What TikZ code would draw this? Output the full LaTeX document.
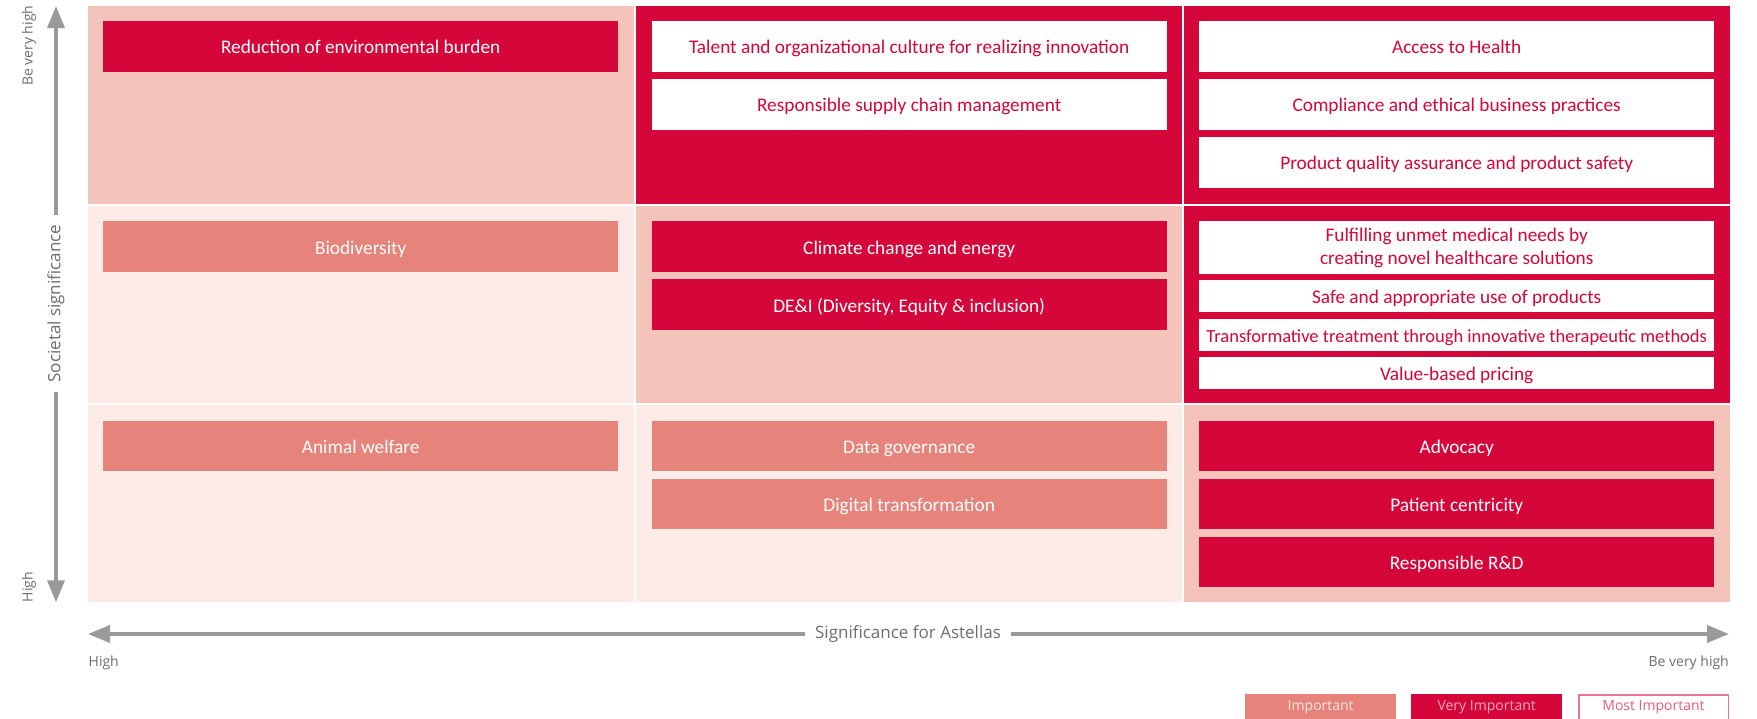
\documentclass[tikz,border=0pt]{standalone}
\usepackage{fontspec}
\setmainfont{Carlito}
\newfontfamily\axisfont{Open Sans}
\usetikzlibrary{arrows.meta}
\definecolor{vired}{HTML}{D5063A}
\definecolor{salmon}{HTML}{E6837A}
\definecolor{pinkbg}{HTML}{F4C4BA}
\definecolor{palebg}{HTML}{FCEBE7}
\definecolor{axisgray}{HTML}{9A9A9C}
\definecolor{labelgray}{HTML}{6D6E71}
\begin{document}
\begin{tikzpicture}[x=1pt,y=-1pt,
  cell/.style={anchor=north west, inner sep=0pt, minimum width=546pt},
  box/.style={anchor=north west, inner sep=0pt, minimum width=515pt, minimum height=50.6pt,
     text height=15pt, text depth=0pt,
     align=center, font=\fontsize{19.3pt}{23pt}\selectfont},
  imp/.style={box, fill=salmon, text=white},
  vimp/.style={box, fill=vired, text=white},
  mimp/.style={box, fill=white, text=vired},
  axisline/.style={draw=axisgray, line width=3.5pt, -{Triangle[length=22pt,width=17pt]}},
  axislabel/.style={text=labelgray, font=\axisfont\fontsize{17pt}{20pt}\selectfont},
  endlabel/.style={text=labelgray, inner sep=0pt, font=\axisfont\fontsize{14pt}{17pt}\selectfont},
  legend/.style={anchor=north west, inner sep=0pt, minimum width=151pt, minimum height=27pt,
     font=\axisfont\fontsize{14pt}{17pt}\selectfont}
]
\useasboundingbox (0,0) rectangle (1757,718);
\fill[white] (0,0) rectangle (1757,718);

% cells
\node[cell, fill=pinkbg, minimum width=546.5pt, minimum height=198.2pt] (c11) at (87.5,5.3) {};
\node[cell, fill=vired,  minimum height=198.2pt] (c12) at (636,5.3) {};
\node[cell, fill=vired,  minimum height=198.2pt] (c13) at (1183.5,5.3) {};
\node[cell, fill=palebg, minimum width=546.5pt, minimum height=197.5pt] (c21) at (87.5,205.5) {};
\node[cell, fill=pinkbg, minimum height=197.5pt] (c22) at (636,205.5) {};
\node[cell, fill=vired,  minimum height=197.5pt] (c23) at (1183.5,205.5) {};
\node[cell, fill=palebg, minimum width=546.5pt, minimum height=197.2pt] (c31) at (87.5,405) {};
\node[cell, fill=palebg, minimum height=197.2pt] (c32) at (636,405) {};
\node[cell, fill=pinkbg, minimum height=197.2pt] (c33) at (1183.5,405) {};

% row 1
\node[vimp] (b1) at (103,20.8) {Reduction of environmental burden};
\node[mimp] (b2) at (651.5,20.8) {Talent and organizational culture for realizing innovation};
\node[mimp] (b3) at (651.5,78.8) {Responsible supply chain management};
\node[mimp] (b4) at (1199,20.8) {Access to Health};
\node[mimp] (b5) at (1199,78.8) {Compliance and ethical business practices};
\node[mimp] (b6) at (1199,136.8) {Product quality assurance and product safety};

% row 2
\node[imp] (b7) at (103,221) {Biodiversity};
\node[vimp] (b8) at (651.5,221) {Climate change and energy};
\node[vimp] (b9) at (651.5,279) {DE\&I (Diversity, Equity \& inclusion)};
\node[mimp, minimum height=52.7pt, text height=, text depth=] (b10) at (1199,221) {\rule{0pt}{15pt}Fulfilling unmet medical needs by\\creating novel healthcare solutions};
\node[mimp, minimum height=31.7pt] (b11) at (1199,280) {Safe and appropriate use of products};
\node[mimp, minimum height=31.7pt, font=\fontsize{18.5pt}{22pt}\selectfont] (b12) at (1199,319) {Transformative treatment through innovative therapeutic methods};
\node[mimp, minimum height=31.7pt] (b13) at (1199,357) {Value-based pricing};

% row 3
\node[imp] (b14) at (103,420.5) {Animal welfare};
\node[imp] (b15) at (651.5,420.5) {Data governance};
\node[imp] (b16) at (651.5,478.5) {Digital transformation};
\node[vimp] (b17) at (1199,420.5) {Advocacy};
\node[vimp] (b18) at (1199,478.5) {Patient centricity};
\node[vimp] (b19) at (1199,536.5) {Responsible R\&D};

% vertical axis
\coordinate (vtop) at (56,6);
\coordinate (vbot) at (56,602.3);
\node[axislabel, rotate=90, inner xsep=9.5pt, inner ysep=0pt] (soc) at (56,303.5) {Societal significance};
\draw[axisline] (soc.east) -- (vtop);
\draw[axisline] (soc.west) -- (vbot);
\node[endlabel, rotate=90, anchor=east] (vhigh) at (29,5.5) {Be very high};
\node[endlabel, rotate=90, anchor=west] (vlow) at (29,602.3) {High};

% horizontal axis
\coordinate (hleft) at (88,634);
\coordinate (hright) at (1729,634);
\node[axislabel, inner xsep=10pt, inner ysep=0pt] (sig) at (908,634) {Significance for Astellas};
\draw[axisline] (sig.west) -- (hleft);
\draw[axisline] (sig.east) -- (hright);
\node[endlabel, anchor=base west] (hlow) at (88.5,666.5) {High};
\node[endlabel, anchor=base east] (hhigh) at (1729,666.5) {Be very high};

% legend
\node[legend, fill=salmon, text=white!80!salmon] (l1) at (1245,693.3) {Important};
\node[legend, fill=vired, text=white!65!vired] (l2) at (1411,693.3) {Very Important};
\node[legend, fill=white, draw=vired!55, line width=1.5pt, text=vired!65, minimum width=149.5pt, minimum height=25.5pt] (l3) at (1578,694) {Most Important};
\end{tikzpicture}
\end{document}
